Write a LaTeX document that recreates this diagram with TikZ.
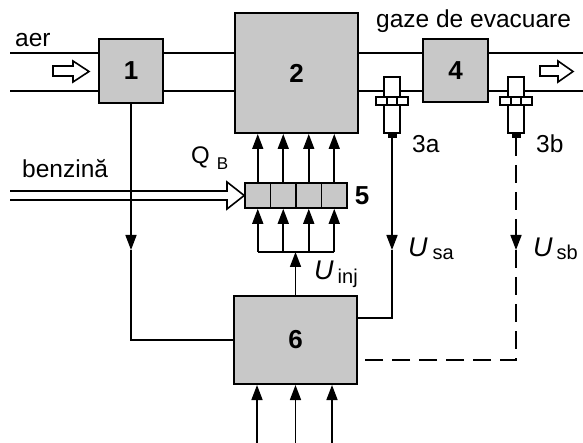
\documentclass[tikz,border=0pt]{standalone}
\usepackage{fontspec}
\setmainfont{Liberation Sans}
\usetikzlibrary{arrows.meta}
\definecolor{boxgray}{RGB}{200,200,200}
\tikzset{
  sensor/.pic={
    \draw[line width=1.4pt, fill=white] (-8,77) rectangle (8,133);
    \draw[line width=1.4pt, fill=white] (-16,97) rectangle (16,105);
    \draw[line width=1.2pt] (-5,97) -- (-5,105) (5,97) -- (5,105);
    \fill (-4.5,133) rectangle (4.5,138);
    \coordinate (-tip) at (0,138);
  }
}
\begin{document}
\begin{tikzpicture}[x=1pt,y=-1pt,
  box/.style={draw, line width=2pt, fill=boxgray, inner sep=0pt, font=\fontsize{26}{26}\selectfont\bfseries},
  cell/.style={draw, line width=1.6pt, fill=boxgray, minimum width=25.5pt, minimum height=25pt, inner sep=0pt},
  conn/.style={line width=1.6pt},
  arr/.style={conn, -{Triangle[length=15pt,width=11pt]}},
  dline/.style={conn, dash pattern=on 18pt off 9pt},
  lbl/.style={inner sep=0pt, anchor=base west, font=\fontsize{24.5}{24.5}\selectfont},
  hollow/.style={line width=1.6pt, fill=white, line join=miter},
]
\useasboundingbox (0,0) rectangle (583,443);

% coordinates
\coordinate (ptL) at (10,53);
\coordinate (pbL) at (10,91);
\coordinate (ptR) at (583,53);
\coordinate (pbR) at (583,91);
\coordinate (ylvl) at (0,250);
\coordinate (ya) at (0,318);
\coordinate (yb) at (0,360);
\coordinate (comb) at (0,252);
\coordinate (in1) at (257,443);
\coordinate (in2) at (295.5,443);
\coordinate (in3) at (332,443);
\coordinate (bz1) at (10,191);
\coordinate (bz2) at (10,200);

% boxes
\node[box, minimum width=64pt, minimum height=64pt] (b1) at (131,71) {1};
\node[box, minimum width=123pt, minimum height=120pt] (b2) at (296.5,73) {2};
\node[box, minimum width=65pt, minimum height=63pt] (b4) at (455.5,70.5) {4};
\node[box, minimum width=123pt, minimum height=88pt] (b6) at (295.5,340) {6};
\node[cell] (c1) at (257.75,195.5) {};
\node[cell] (c2) at (283.25,195.5) {};
\node[cell] (c3) at (308.75,195.5) {};
\node[cell] (c4) at (334.25,195.5) {};
\node[inner sep=0pt, font=\fontsize{26}{26}\selectfont\bfseries] (n5) at (362,196) {5};

% pipe
\draw[conn] (ptL) -- (b1.west |- ptL);
\draw[conn] (pbL) -- (b1.west |- pbL);
\draw[conn] (b1.east |- ptL) -- (b2.west |- ptL);
\draw[conn] (b1.east |- pbL) -- (b2.west |- pbL);
\draw[conn] (b2.east |- ptL) -- (b4.west |- ptL);
\draw[conn] (b2.east |- pbL) -- (b4.west |- pbL);
\draw[conn] (b4.east |- ptR) -- (ptR);
\draw[conn] (b4.east |- pbR) -- (pbR);

% flow arrows
\draw[hollow] (53,66) -- (73,66) -- (73,61) -- (89,71.5) -- (73,82) -- (73,76) -- (53,76) -- cycle;
\draw[hollow] (540,66) -- (558,66) -- (558,61) -- (573,71.5) -- (558,82) -- (558,76) -- (540,76) -- cycle;

% sensors
\pic (s3a) at (392,0) {sensor};
\pic (s3b) at (516,0) {sensor};

% benzina
\draw[conn, line join=miter] (bz1) -- (227,191) -- (227,182) -- (c1.west) -- (227,209) -- (227,200) -- (bz2);

% box 1 to box 6
\draw[arr] (b1.south) -- (b1.south |- ylvl);
\draw[conn] (b1.south |- ylvl) |- (b6.west);

% sensor signals
\draw[arr] (s3a-tip) -- (s3a-tip |- ylvl);
\draw[conn] (s3a-tip |- ylvl) |- (b6.east |- ya);
\draw[dline, -{Triangle[length=15pt,width=11pt]}] (s3b-tip) -- (s3b-tip |- ylvl);
\draw[dline] (s3b-tip |- ylvl) |- (b6.east |- yb);

% injectors
\foreach \c in {c1,c2,c3,c4} {
  \draw[arr] (\c.north) -- (\c.north |- b2.south);
  \draw[arr] (\c.south |- comb) -- (\c.south);
}
\draw[conn] (c1.south |- comb) -- (c4.south |- comb);
\draw[arr] (b6.north) -- (b6.north |- comb);

% inputs of 6
\draw[arr] (in1) -- (in1 |- b6.south);
\draw[arr] (in2) -- (in2 |- b6.south);
\draw[arr] (in3) -- (in3 |- b6.south);

% labels
\node[lbl] (laer) at (15,47) {aer};
\node[lbl] (lgaz) at (376,28) {gaze de evacuare};
\node[lbl] (lbz) at (22,178) {benzină};
\node[lbl] (l3a) at (412,153) {3a};
\node[lbl] (l3b) at (536,153) {3b};
\node[lbl] (lqb) at (191,164) {{\fontsize{24}{24}\selectfont Q}\hspace{7pt}\raisebox{-6pt}{\fontsize{17}{17}\selectfont B}};
\node[lbl] (lusa) at (408,257) {{\fontsize{27}{27}\selectfont\itshape U}\hspace{5pt}\raisebox{-3pt}{\fontsize{20}{20}\selectfont sa}};
\node[lbl] (lusb) at (533,257) {{\fontsize{27}{27}\selectfont\itshape U}\hspace{4pt}\raisebox{-3pt}{\fontsize{20}{20}\selectfont sb}};
\node[lbl] (luinj) at (314,280) {{\fontsize{27}{27}\selectfont\itshape U}\hspace{4pt}\raisebox{-3pt}{\fontsize{20}{20}\selectfont inj}};
\end{tikzpicture}
\end{document}
